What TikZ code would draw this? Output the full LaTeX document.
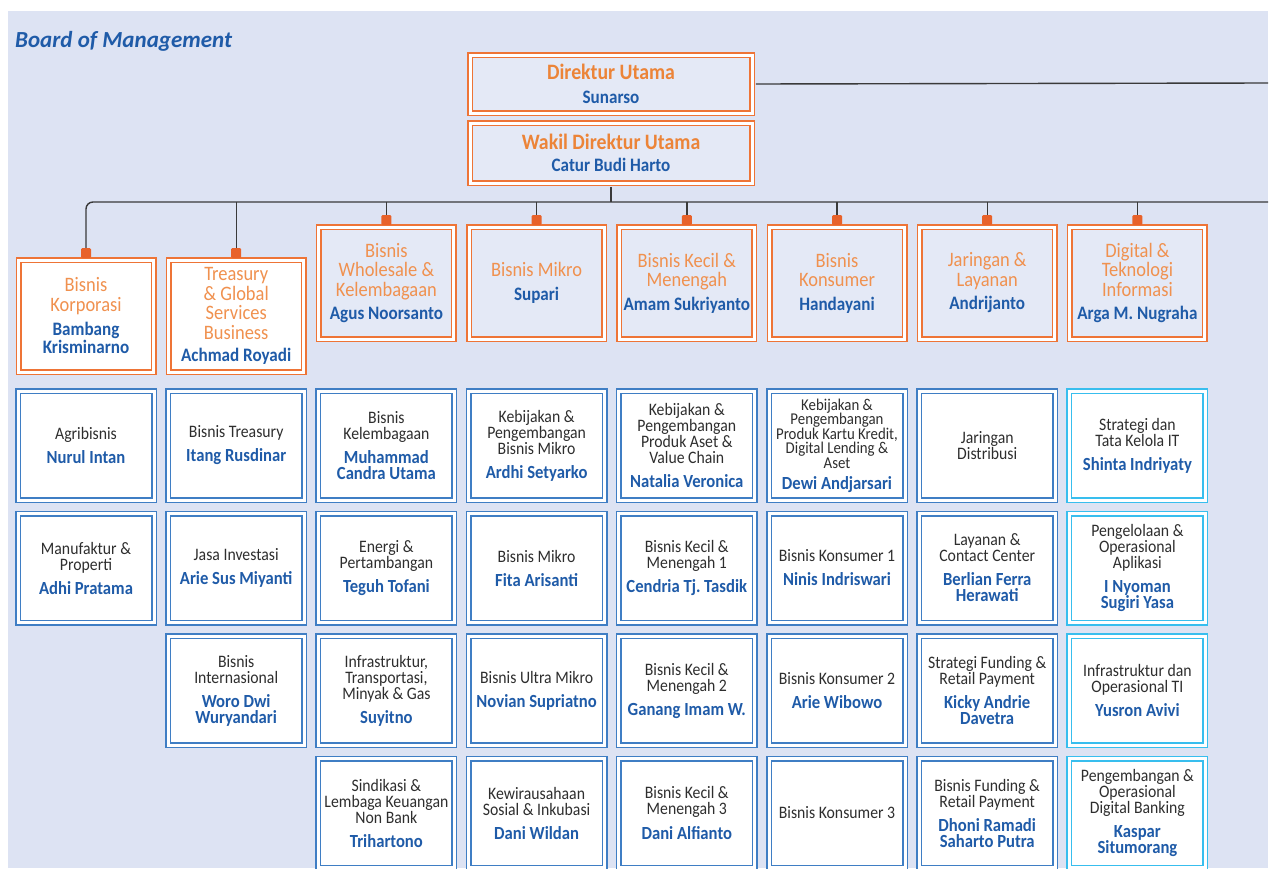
\documentclass[tikz,border=0pt]{standalone}
\usepackage{fontspec}
\setmainfont{Carlito}
\newfontfamily\cf[FakeStretch=0.9]{Carlito}
\frenchspacing
\definecolor{bgc}{HTML}{DDE3F3}
\definecolor{l2fill}{HTML}{E4E9F6}
\definecolor{orl}{HTML}{EE7436}
\definecolor{otxt}{HTML}{F0914F}
\definecolor{otop}{HTML}{EC8438}
\definecolor{osq}{HTML}{E8622A}
\definecolor{blu}{HTML}{3F7EC4}
\definecolor{cya}{HTML}{38BEEE}
\definecolor{nblue}{HTML}{1F5BA8}
\definecolor{tgray}{HTML}{2E2E2E}
\definecolor{lineg}{HTML}{3A3A3A}
\newcommand\ftl{\cf\fontsize{17.5}{16}\selectfont}
\newcommand\nm[1]{{\cf\bfseries\fontsize{18.5}{16}\selectfont\color{nblue}#1}}
\newcommand\onm[1]{{\cf\bfseries\fontsize{19}{16}\selectfont\color{nblue}#1}}
\newcommand\tnm[1]{{\cf\bfseries\fontsize{19}{19}\selectfont\color{nblue}#1}}
\tikzset{
  conn/.style={draw=lineg, line width=1.4pt},
  dbl/.style={line width=1.5pt, double=white, double distance=3pt, inner sep=0pt, align=center},
  topbox/.style={dbl, draw=orl, fill=l2fill, minimum width=282pt, font=\cf\bfseries\fontsize{22}{22}\selectfont, text=otop},
  lvtwo/.style={dbl, draw=orl, fill=l2fill, minimum width=135pt, minimum height=112pt, font=\cf\fontsize{20.5}{19.5}\selectfont, text=otxt},
  lvtwow/.style={lvtwo, fill=white},
  unitbox/.style={dbl, draw=blu, fill=white, minimum width=136pt, minimum height=109pt, font=\ftl, text=tgray},
  itbox/.style={unitbox, draw=cya},
  sq/.style={fill=osq, minimum width=10pt, minimum height=10pt, inner sep=0pt, rounded corners=1.2pt, anchor=south},
  heading/.style={font=\bfseries\itshape\fontsize{23}{23}\selectfont, text=nblue, anchor=base west, inner sep=0pt}
}
\begin{document}
\begin{tikzpicture}[x=1pt,y=-1pt]
\useasboundingbox (0,0) rectangle (1272,868);
\fill[white] (0,0) rectangle (1272,868);
\fill[bgc] (8,11) rectangle (1268,868);
\node[heading] (title) at (15,47) {Board of Management};
\coordinate (edgeTop) at (1268,83);
\coordinate (busR) at (1268,202);
% top boxes
\node[topbox, minimum height=58pt] (dir) at (611,84) {Direktur Utama\\[2pt]\tnm{Sunarso}};
\node[topbox, minimum height=60pt] (wakil) at (611,153) {Wakil Direktur Utama\\[0pt]\tnm{Catur Budi Harto}};
% level two
\node[lvtwow] (d1) at (86,316) {Bisnis\\Korporasi\\[5pt]\onm{Bambang}\\[-1.5pt]\onm{Krisminarno}};
\node[lvtwow] (d2) at (236.2,316) {Treasury\\\& Global\\Services\\Business\\[3pt]\onm{Achmad Royadi}};
\node[lvtwo] (d3) at (386.4,283) {Bisnis\\Wholesale \&\\Kelembagaan\\[4pt]\onm{Agus Noorsanto}};
\node[lvtwo] (d4) at (536.6,283) {Bisnis Mikro\\[5pt]\onm{Supari}};
\node[lvtwo] (d5) at (686.8,283) {Bisnis Kecil \&\\Menengah\\[4pt]\onm{Amam Sukriyanto}};
\node[lvtwo] (d6) at (837,283) {Bisnis\\Konsumer\\[4pt]\onm{Handayani}};
\node[lvtwo] (d7) at (987.2,283) {Jaringan \&\\Layanan\\[4pt]\onm{Andrijanto}};
\node[lvtwo] (d8) at (1137.4,283) {Digital \&\\Teknologi\\Informasi\\[4pt]\onm{Arga M. Nugraha}};
% squares
\foreach \i in {1,...,8}{\node[sq] (s\i) at ([yshift=1pt]d\i.north) {};}
% connectors
\draw[conn, shorten <=3pt] (dir.east) -- (edgeTop);
\draw[conn, shorten <=3pt] (wakil.south) -- (wakil.south |- busR);
\draw[conn, rounded corners=7pt] (s1.north) -- (s1.north |- busR) -- (busR);
\foreach \i in {2,...,8}{\draw[conn] (s\i.north |- busR) -- (s\i.north);}
% column 1
\node[unitbox] (u11) at (86,445.5) {Agribisnis\\[8pt]\nm{Nurul Intan}};
\node[unitbox] (u12) at (86,568) {Manufaktur \&\\Properti\\[8pt]\nm{Adhi Pratama}};
% column 2
\node[unitbox] (u21) at (236.2,445.5) {Bisnis Treasury\\[8pt]\nm{Itang Rusdinar}};
\node[unitbox] (u22) at (236.2,568) {Jasa Investasi\\[8pt]\nm{Arie Sus Miyanti}};
\node[unitbox] (u23) at (236.2,690.5) {Bisnis\\Internasional\\[8pt]\nm{Woro Dwi}\\\nm{Wuryandari}};
% column 3
\node[unitbox] (u31) at (386.4,445.5) {Bisnis\\Kelembagaan\\[8pt]\nm{Muhammad}\\\nm{Candra Utama}};
\node[unitbox] (u32) at (386.4,568) {Energi \&\\Pertambangan\\[8pt]\nm{Teguh Tofani}};
\node[unitbox] (u33) at (386.4,690.5) {Infrastruktur,\\Transportasi,\\Minyak \& Gas\\[8pt]\nm{Suyitno}};
\node[unitbox] (u34) at (386.4,813) {Sindikasi \&\\Lembaga Keuangan\\Non Bank\\[8pt]\nm{Trihartono}};
% column 4
\node[unitbox] (u41) at (536.6,445.5) {Kebijakan \&\\Pengembangan\\Bisnis Mikro\\[8pt]\nm{Ardhi Setyarko}};
\node[unitbox] (u42) at (536.6,568) {Bisnis Mikro\\[8pt]\nm{Fita Arisanti}};
\node[unitbox] (u43) at (536.6,690.5) {Bisnis Ultra Mikro\\[8pt]\nm{Novian Supriatno}};
\node[unitbox] (u44) at (536.6,813) {Kewirausahaan\\Sosial \& Inkubasi\\[8pt]\nm{Dani Wildan}};
% column 5
\node[unitbox] (u51) at (686.8,445.5) {Kebijakan \&\\Pengembangan\\Produk Aset \&\\Value Chain\\[8pt]\nm{Natalia Veronica}};
\node[unitbox] (u52) at (686.8,568) {Bisnis Kecil \&\\Menengah 1\\[8pt]\nm{Cendria Tj. Tasdik}};
\node[unitbox] (u53) at (686.8,690.5) {Bisnis Kecil \&\\Menengah 2\\[8pt]\nm{Ganang Imam W.}};
\node[unitbox] (u54) at (686.8,813) {Bisnis Kecil \&\\Menengah 3\\[8pt]\nm{Dani Alfianto}};
% column 6
\node[unitbox, font=\cf\fontsize{16.5}{14.6}\selectfont] (u61) at (837,445.5) {Kebijakan \&\\Pengembangan\\Produk Kartu Kredit,\\Digital Lending \&\\Aset\\[6pt]\nm{Dewi Andjarsari}};
\node[unitbox] (u62) at (837,568) {Bisnis Konsumer 1\\[8pt]\nm{Ninis Indriswari}};
\node[unitbox] (u63) at (837,690.5) {Bisnis Konsumer 2\\[8pt]\nm{Arie Wibowo}};
\node[unitbox] (u64) at (837,813) {Bisnis Konsumer 3};
% column 7
\node[unitbox] (u71) at (987.2,445.5) {Jaringan\\Distribusi};
\node[unitbox] (u72) at (987.2,568) {Layanan \&\\Contact Center\\[8pt]\nm{Berlian Ferra}\\\nm{Herawati}};
\node[unitbox] (u73) at (987.2,690.5) {Strategi Funding \&\\Retail Payment\\[8pt]\nm{Kicky Andrie}\\\nm{Davetra}};
\node[unitbox] (u74) at (987.2,813) {Bisnis Funding \&\\Retail Payment\\[8pt]\nm{Dhoni Ramadi}\\\nm{Saharto Putra}};
% column 8
\node[itbox] (u81) at (1137.4,445.5) {Strategi dan\\Tata Kelola IT\\[8pt]\nm{Shinta Indriyaty}};
\node[itbox] (u82) at (1137.4,568) {Pengelolaan \&\\Operasional\\Aplikasi\\[8pt]\nm{I Nyoman}\\\nm{Sugiri Yasa}};
\node[itbox] (u83) at (1137.4,690.5) {Infrastruktur dan\\Operasional TI\\[8pt]\nm{Yusron Avivi}};
\node[itbox] (u84) at (1137.4,813) {Pengembangan \&\\Operasional\\Digital Banking\\[8pt]\nm{Kaspar}\\\nm{Situmorang}};
\end{tikzpicture}
\end{document}
